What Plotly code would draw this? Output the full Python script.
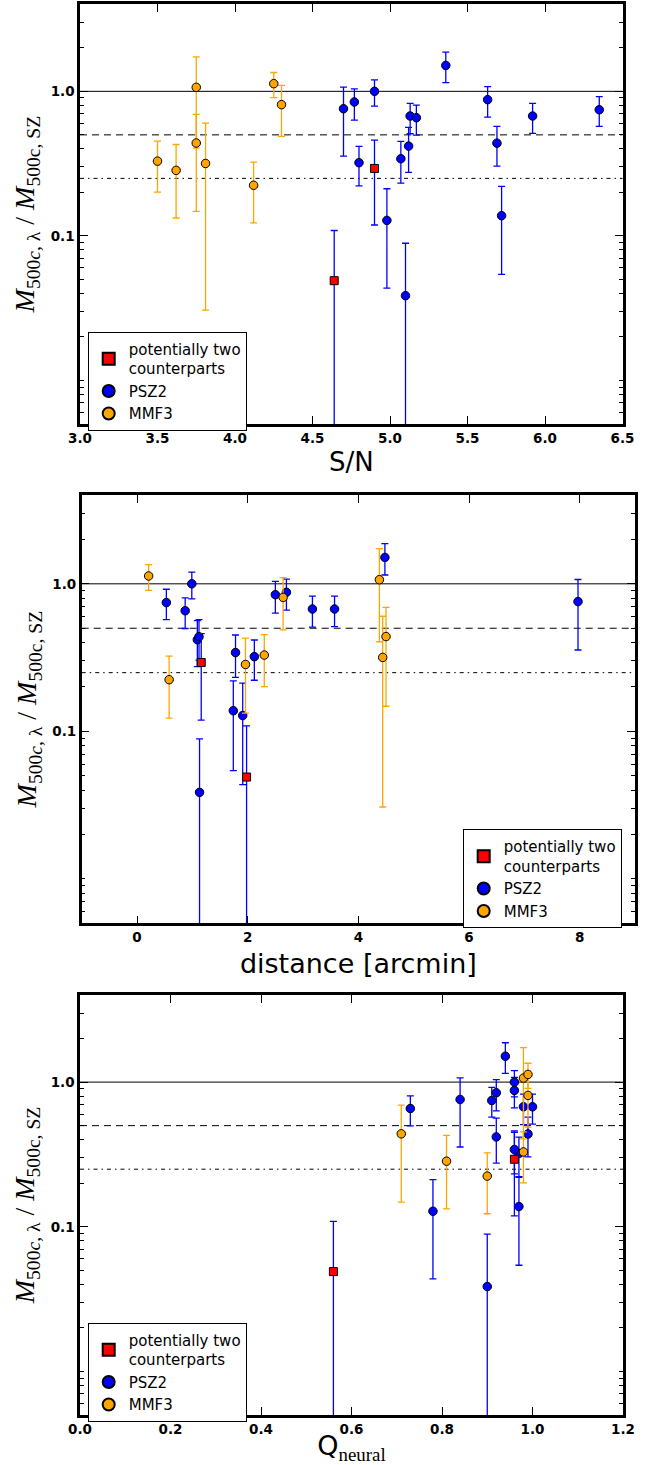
import math
import plotly.graph_objects as go

# ---------------- data ----------------
# PSZ2 matches
psz2_snr  = [4.70, 4.77, 4.80, 4.90, 5.07, 4.98, 5.10, 5.12, 5.13, 5.17, 5.36, 5.63, 5.69, 5.72, 5.92, 6.35]
psz2_dist = [7.97, 2.50, 2.12, 0.99, 1.78, 1.91, 1.13, 1.09, 3.17, 0.87, 4.48, 2.70, 1.12, 1.74, 3.57, 0.53]
psz2_q    = [0.84, 0.92, 0.97, 0.96, 0.96, 0.78, 0.90, 0.92, 0.98, 0.73, 0.94, 0.96, 0.99, 0.97, 1.00, 0.91]
psz2_val  = [0.758, 0.844, 0.321, 1.00, 0.342, 0.128, 0.0386, 0.418, 0.675, 0.657, 1.51, 0.876, 0.438, 0.138, 0.675, 0.746]
psz2_hi   = [1.07, 1.04, 0.416, 1.20, 0.45, 0.212, 0.089, 0.563, 0.826, 0.804, 1.87, 1.077, 0.572, 0.22, 0.826, 0.919]
psz2_lo   = [0.356, 0.633, 0.222, 0.791, 0.232, 0.0436, 0.0, 0.275, 0.509, 0.498, 1.148, 0.664, 0.304, 0.0542, 0.512, 0.572]

# MMF3 matches
mmf3_snr  = [3.50, 3.62, 3.75, 3.75, 3.81, 4.12, 4.25, 4.30]
mmf3_dist = [2.30, 1.96, 4.38, 4.50, 4.44, 0.58, 0.21, 2.64]
mmf3_q    = [0.98, 0.81, 0.98, 0.71, None, 0.90, 0.99, 0.99]
mmf3_val  = [0.329, 0.284, 1.066, 0.439, 0.317, 0.224, 1.13, 0.809]
mmf3_hi   = [0.453, 0.429, 1.73, 0.693, 0.603, 0.324, 1.35, 1.10]
mmf3_lo   = [0.201, 0.133, 0.405, 0.148, 0.0307, 0.123, 0.904, 0.488]

# potentially two counterparts
two_snr  = [4.90, 4.64]
two_dist = [1.16, 1.98]
two_q    = [0.96, 0.56]
two_val  = [0.293, 0.049]
two_hi   = [0.46, 0.109]
two_lo   = [0.119, 0.0]

# reference ratios
ref_levels = [1.0, 0.5, 0.25]
ref_dashes = ["solid", "7px,5px", "4px,4px,1.5px,4px"]

# axis ticks
snr_ticks = [3.0, 3.5, 4.0, 4.5, 5.0, 5.5, 6.0, 6.5]
snr_ticktext = ["3.0", "3.5", "4.0", "4.5", "5.0", "5.5", "6.0", "6.5"]
dist_ticks = [0, 2, 4, 6, 8]
dist_ticktext = ["0", "2", "4", "6", "8"]
q_ticks = [0.0, 0.2, 0.4, 0.6, 0.8, 1.0, 1.2]
q_ticktext = ["0.0", "0.2", "0.4", "0.6", "0.8", "1.0", "1.2"]
y_ticks = [0.1, 1.0]
y_ticktext = ["0.1", "1.0"]
y_minor = [0.006, 0.007, 0.008, 0.009, 0.01, 0.02, 0.03, 0.04, 0.05, 0.06, 0.07, 0.08, 0.09,
           0.2, 0.3, 0.4, 0.5, 0.6, 0.7, 0.8, 0.9, 2, 3, 4]
y_range = [0.005, 4.0]

# ---------------- figure ----------------
BLUE = "#0000ff"
ORANGE = "#ffa500"
RED = "#ff0000"


def err(val, hi, lo):
    plus = [h - v for v, h in zip(val, hi)]
    minus = [v - l for v, l in zip(val, lo)]
    return plus, minus


fig = go.Figure()

panels = [
    ("x", "y", "legend", psz2_snr, mmf3_snr, two_snr),
    ("x2", "y2", "legend2", psz2_dist, mmf3_dist, two_dist),
    ("x3", "y3", "legend3", psz2_q, mmf3_q, two_q),
]

for xa, ya, leg, px, mx, tx in panels:
    p_plus, p_minus = err(psz2_val, psz2_hi, psz2_lo)
    m_plus, m_minus = err(mmf3_val, mmf3_hi, mmf3_lo)
    t_plus, t_minus = err(two_val, two_hi, two_lo)
    fig.add_trace(go.Scatter(
        x=px, y=psz2_val, mode="markers", name="PSZ2", xaxis=xa, yaxis=ya, legend=leg,
        legendrank=2,
        marker=dict(color=BLUE, size=8.5, symbol="circle", line=dict(color="black", width=1)),
        error_y=dict(type="data", array=p_plus, arrayminus=p_minus, color=BLUE,
                     thickness=1.3, width=3.5),
    ))
    fig.add_trace(go.Scatter(
        x=mx, y=mmf3_val, mode="markers", name="MMF3", xaxis=xa, yaxis=ya, legend=leg,
        legendrank=3,
        marker=dict(color=ORANGE, size=8.5, symbol="circle", line=dict(color="black", width=1)),
        error_y=dict(type="data", array=m_plus, arrayminus=m_minus, color=ORANGE,
                     thickness=1.3, width=3.5),
    ))
    fig.add_trace(go.Scatter(
        x=tx, y=two_val, mode="markers", name="potentially two<br>counterparts",
        xaxis=xa, yaxis=ya, legend=leg, legendrank=1,
        marker=dict(color=RED, size=8, symbol="square", line=dict(color="black", width=1)),
        error_y=dict(type="data", array=t_plus, arrayminus=t_minus, color=BLUE,
                     thickness=1.3, width=3.5),
    ))
    for lvl, dash in zip(ref_levels, ref_dashes):
        fig.add_shape(type="line", xref=f"{xa} domain", yref=ya, x0=0, x1=1, y0=lvl, y1=lvl,
                      line=dict(color="black", width=1, dash=dash), layer="below")

W, H = 656, 1465
tickfont = dict(family="DejaVu Sans", size=13.5, color="black", weight="bold")
ytitle = ("<i>M</i><sub>500<i>c</i>, λ</sub> / <i>M</i><sub>500c, SZ</sub>")
ytitle_font = dict(family="Liberation Serif", size=28, color="black")


def xaxis(domain, anchor, rng, tv, tt, title, tfont, standoff):
    return dict(domain=domain, anchor=anchor, range=rng, tickvals=tv, ticktext=tt,
                ticks="inside", ticklen=8, tickwidth=1, tickcolor="black",
                showline=True, linewidth=2.5, linecolor="black", mirror="allticks",
                showgrid=False, zeroline=False, tickfont=tickfont, automargin=False,
                title=dict(text=title, font=tfont, standoff=standoff))


def yaxis(domain, anchor):
    lo, hi = y_range
    return dict(domain=domain, anchor=anchor, type="log",
                range=[math.log10(lo), math.log10(hi)],
                tickvals=y_ticks, ticktext=y_ticktext,
                ticks="inside", ticklen=8, tickwidth=1, tickcolor="black",
                minor=dict(tickvals=y_minor, ticks="inside", ticklen=4, tickwidth=1,
                           tickcolor="black", showgrid=False),
                showline=True, linewidth=2.5, linecolor="black", mirror="allticks",
                showgrid=False, zeroline=False, tickfont=tickfont, automargin=False,
                title=dict(text=ytitle, font=ytitle_font, standoff=8))


def py(p):
    return 1 - p / H


xt_font = dict(family="DejaVu Sans", size=26, color="black")
qtitle = 'Q<sub><span style="font-family:Liberation Serif">neural</span></sub>'

legend_common = dict(bgcolor="white", bordercolor="black", borderwidth=1,
                     font=dict(family="DejaVu Sans", size=15, color="black"),
                     traceorder="normal", itemsizing="constant", tracegroupgap=0,
                     yanchor="top", xanchor="left")

fig.update_layout(
    width=W, height=H, autosize=False,
    margin=dict(l=0, r=0, t=0, b=0, autoexpand=False),
    paper_bgcolor="white", plot_bgcolor="white",
    showlegend=True,
    xaxis=xaxis([80 / W, 622.5 / W], "y", [3.0, 6.5], snr_ticks, snr_ticktext, "S/N", xt_font, 8),
    yaxis=yaxis([py(424), py(4.3)], "x"),
    xaxis2=xaxis([81.7 / W, 635 / W], "y2", [-1, 9], dist_ticks, dist_ticktext,
                 "distance [arcmin]", dict(family="DejaVu Sans", size=27, color="black"), 10),
    yaxis2=yaxis([py(923.3), py(495)], "x2"),
    xaxis3=xaxis([80 / W, 623 / W], "y3", [0.0, 1.2], q_ticks, q_ticktext, qtitle,
                 dict(family="DejaVu Sans", size=27, color="black"), 5),
    yaxis3=yaxis([py(1415), py(995)], "x3"),
    legend=dict(x=87.7 / W, y=py(331.7), **legend_common),
    legend2=dict(x=462.7 / W, y=py(829.3), **legend_common),
    legend3=dict(x=87.7 / W, y=py(1322.7), **legend_common),
)

fig.write_html("out.html", config={"displayModeBar": False},
               post_script="document.body.style.margin='0';")
